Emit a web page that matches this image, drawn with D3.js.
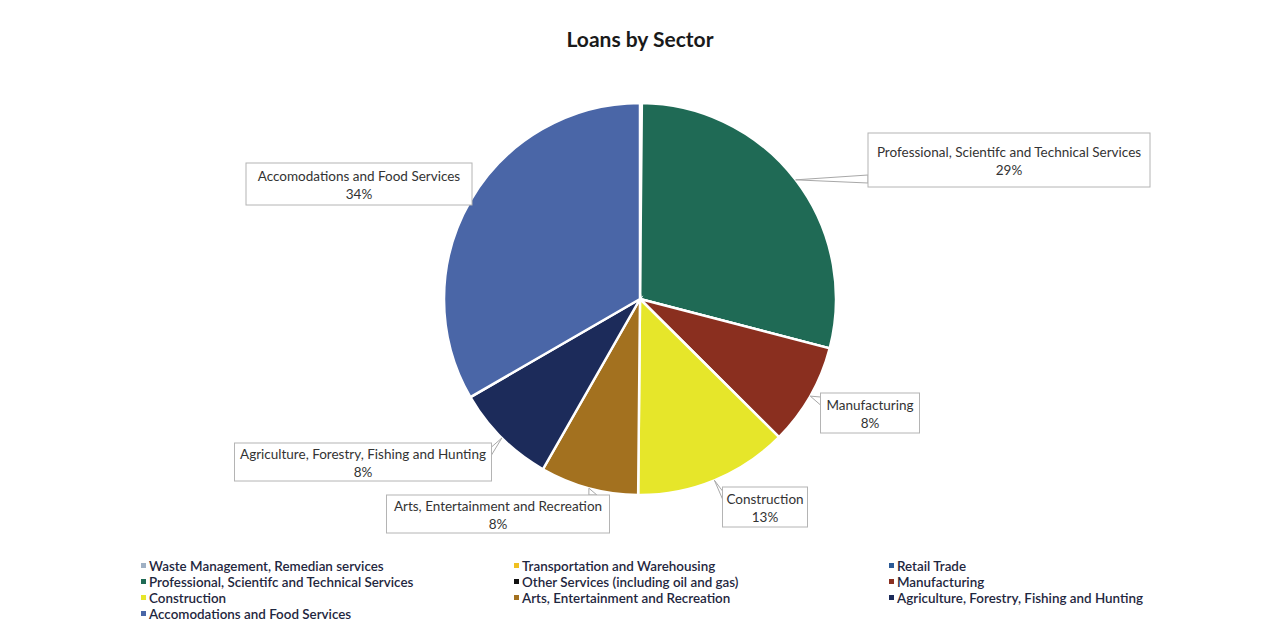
<!DOCTYPE html>
<html>
<head>
<meta charset="utf-8">
<script src="https://cdn.jsdelivr.net/npm/d3@7"></script>
<style>
  body { margin: 0; background: #fff; }
  text { font-family: Lato, "Open Sans", sans-serif; }
</style>
</head>
<body>
<div id="chart-area"></div>
<script>
// data, clockwise from 12 o'clock (legend order)
var sectors = ["Waste Management, Remedian services", "Transportation and Warehousing", "Retail Trade",
               "Professional, Scientifc and Technical Services", "Other Services (including oil and gas)", "Manufacturing",
               "Construction", "Arts, Entertainment and Recreation", "Agriculture, Forestry, Fishing and Hunting",
               "Accomodations and Food Services"];
var shares = [0, 0.15, 0, 28.9, 0, 8.4, 12.7, 8.1, 8.4, 33.35];
var shareLabels = ["0%", "0%", "0%", "29%", "0%", "8%", "13%", "8%", "8%", "34%"];
var colors = ["#9fb0c4", "#f0c020", "#2b5a96", "#1f6a55", "#111111", "#8a2f1f",
              "#e6e62a", "#a3711f", "#1c2b5a", "#4a66a7"];

// label boxes: centre x, centre y, width, height (layout only)
var boxes = {
  3: [1009, 160, 282, 54],
  5: [870, 413, 99, 40],
  6: [765, 507, 85, 40],
  7: [498, 514, 223, 38],
  8: [363, 462, 257, 38],
  9: [359, 184, 226, 42]
};

var width = 1263, height = 640;
var cx = 640, cy = 299, radius = 196;

var svg = d3.select("#chart-area").append("svg")
    .attr("width", width).attr("height", height);

svg.append("text")
    .attr("x", 640).attr("y", 47)
    .attr("text-anchor", "middle")
    .attr("font-size", "21px").attr("font-weight", "bold")
    .attr("fill", "#1a1a1a")
    .text("Loans by Sector");

var data = sectors.map(function(s, i) {
  return { name: s, value: shares[i], label: shareLabels[i], color: colors[i], idx: i };
});

var pie = d3.pie().sort(null).value(function(d) { return d.value; });
var arc = d3.arc().innerRadius(0).outerRadius(radius);
var arcs = pie(data);

var g = svg.append("g").attr("transform", "translate(" + cx + "," + cy + ")");

g.selectAll("path.slice").data(arcs).enter()
  .append("path")
  .attr("class", "slice")
  .attr("d", arc)
  .attr("fill", function(d) { return d.data.color; })
  .attr("stroke", "#fff")
  .attr("stroke-width", 2.5);

// callouts
var labelled = arcs.filter(function(d) { return boxes[d.data.idx]; });

labelled.forEach(function(d) {
  var b = boxes[d.data.idx];
  var mid = (d.startAngle + d.endAngle) / 2;
  var ax = cx + radius * Math.sin(mid), ay = cy - radius * Math.cos(mid);
  var x0 = b[0] - b[2] / 2, y0 = b[1] - b[3] / 2, x1 = x0 + b[2], y1 = y0 + b[3];
  // nearest point on box edge
  var px = Math.max(x0, Math.min(x1, ax)), py = Math.max(y0, Math.min(y1, ay));
  var p1, p2;
  if (px === x0 || px === x1) {
    var yy = Math.max(y0 + 4, Math.min(y1 - 12, py));
    p1 = [px, yy]; p2 = [px, yy + 8];
  } else {
    var xx = Math.max(x0 + 4, Math.min(x1 - 12, px));
    p1 = [xx, py]; p2 = [xx + 8, py];
  }
  svg.append("path")
    .attr("d", "M" + ax + "," + ay + "L" + p1 + "L" + p2 + "Z")
    .attr("fill", "#fff").attr("stroke", "#a8a8a8").attr("stroke-width", 1);

  svg.append("rect")
    .attr("x", x0).attr("y", y0).attr("width", b[2]).attr("height", b[3])
    .attr("fill", "#fff").attr("stroke", "#b4b4b4").attr("stroke-width", 1);

  var t = svg.append("text")
    .attr("x", b[0]).attr("y", b[1] - 3)
    .attr("text-anchor", "middle")
    .attr("font-size", "13.5px").attr("fill", "#333");
  t.append("tspan").attr("x", b[0]).text(d.data.name);
  t.append("tspan").attr("x", b[0]).attr("dy", 18).text(d.data.label);
});

// legend, 3 columns row by row
var colX = [141, 514, 889], rowY0 = 567, rowH = 16;
var legend = svg.append("g");
data.forEach(function(d, i) {
  var row = Math.floor(i / 3), col = i % 3;
  var lg = legend.append("g")
    .attr("transform", "translate(" + colX[col] + "," + (rowY0 + row * rowH) + ")");
  lg.append("rect")
    .attr("x", 0).attr("y", -4).attr("width", 5).attr("height", 5)
    .attr("fill", d.color);
  lg.append("text")
    .attr("x", 8).attr("y", 4)
    .attr("font-size", "13.4px").attr("font-weight", 600)
    .attr("fill", "#1f2740")
    .text(d.name);
});
</script>
</body>
</html>
